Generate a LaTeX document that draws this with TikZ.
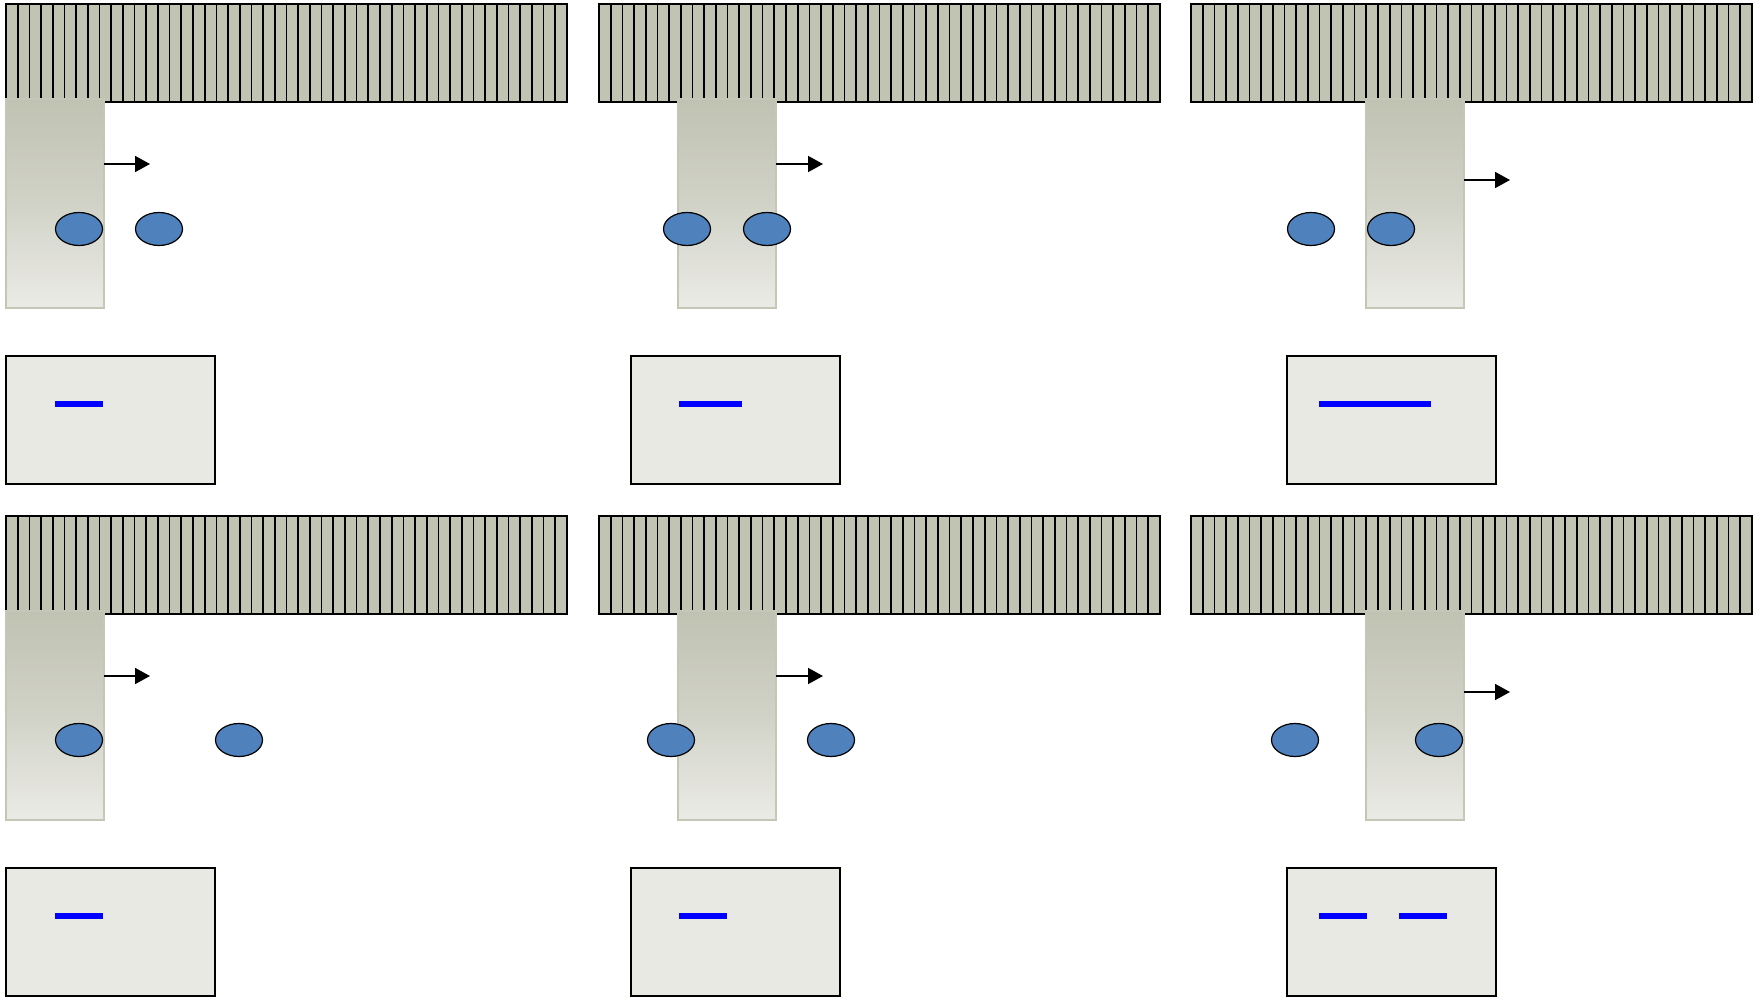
\documentclass[tikz,border=0pt]{standalone}
\usetikzlibrary{shapes.geometric,arrows.meta}
\definecolor{barfill}{RGB}{193,195,179}
\definecolor{coltop}{RGB}{192,194,178}
\definecolor{colbot}{RGB}{235,235,230}
\definecolor{colline}{RGB}{196,198,184}
\definecolor{gelfill}{RGB}{233,233,228}
\definecolor{spot}{RGB}{79,129,189}
\definecolor{bandblue}{RGB}{0,0,255}
\begin{document}
\begin{tikzpicture}[x=1pt,y=-1pt,
  barbox/.style={fill=barfill,draw=black,line width=1.8pt,inner sep=0pt,outer sep=0pt,anchor=north west,minimum width=561pt,minimum height=98pt},
  stripe/.style={draw=black,line width=1.7pt},
  column/.style={top color=coltop,bottom color=colbot,middle color=coltop!60!colbot,draw=colline,line width=1.2pt,inner sep=0pt,outer sep=0pt,anchor=north west,minimum width=98pt,minimum height=209pt},
  spotnode/.style={ellipse,fill=spot,draw=black,line width=1.2pt,minimum width=47pt,minimum height=33pt,inner sep=0pt},
  gelbox/.style={fill=gelfill,draw=black,line width=1.8pt,inner sep=0pt,outer sep=0pt,anchor=north west,minimum width=209pt,minimum height=128pt},
  band/.style={draw=bandblue,line width=6pt},
  arr/.style={draw=black,line width=1.8pt,-{Triangle[length=15pt,width=16pt]}}
]
\useasboundingbox (0,0) rectangle (1758,996);

% ---- bars (membranes) ----
\node[barbox] (b1) at (6,4) {};
\node[barbox] (b2) at (599,4) {};
\node[barbox] (b3) at (1191,4) {};
\node[barbox] (b4) at (6,516) {};
\node[barbox] (b5) at (599,516) {};
\node[barbox] (b6) at (1191,516) {};
\foreach \bx/\by in {6/4,599/4,1191/4,6/516,599/516,1191/516}{
  \foreach \i in {1,...,47}{
    \draw[stripe] (\bx+\i*11.6875,\by) -- (\bx+\i*11.6875,\by+98);
  }
}

% ---- columns ----
\node[column] (c1) at (6,99) {};
\node[column] (c2) at (678,99) {};
\node[column] (c3) at (1366,99) {};
\node[column] (c4) at (6,611) {};
\node[column] (c5) at (678,611) {};
\node[column] (c6) at (1366,611) {};

% ---- spots ----
\node[spotnode] (s1a) at (79,229) {};
\node[spotnode] (s1b) at (159,229) {};
\node[spotnode] (s2a) at (687,229) {};
\node[spotnode] (s2b) at (767,229) {};
\node[spotnode] (s3a) at (1311,229) {};
\node[spotnode] (s3b) at (1391,229) {};
\node[spotnode] (s4a) at (79,740) {};
\node[spotnode] (s4b) at (239,740) {};
\node[spotnode] (s5a) at (671,740) {};
\node[spotnode] (s5b) at (831,740) {};
\node[spotnode] (s6a) at (1295,740) {};
\node[spotnode] (s6b) at (1439,740) {};

% ---- arrows ----
\coordinate (t1) at (150,164);
\coordinate (t2) at (823,164);
\coordinate (t3) at (1510,180);
\coordinate (t4) at (150,676);
\coordinate (t5) at (823,676);
\coordinate (t6) at (1510,692);
\draw[arr] (c1.east |- t1) -- (t1);
\draw[arr] (c2.east |- t2) -- (t2);
\draw[arr] (c3.east |- t3) -- (t3);
\draw[arr] (c4.east |- t4) -- (t4);
\draw[arr] (c5.east |- t5) -- (t5);
\draw[arr] (c6.east |- t6) -- (t6);

% ---- gel boxes ----
\node[gelbox] (g1) at (6,356) {};
\node[gelbox] (g2) at (631,356) {};
\node[gelbox] (g3) at (1287,356) {};
\node[gelbox] (g4) at (6,868) {};
\node[gelbox] (g5) at (631,868) {};
\node[gelbox] (g6) at (1287,868) {};

% ---- bands ----
\draw[band] (55,404) -- (103,404);
\draw[band] (679,404) -- (742,404);
\draw[band] (1319,404) -- (1431,404);
\draw[band] (55,916) -- (103,916);
\draw[band] (679,916) -- (727,916);
\draw[band] (1319,916) -- (1367,916);
\draw[band] (1399,916) -- (1447,916);
\end{tikzpicture}
\end{document}
